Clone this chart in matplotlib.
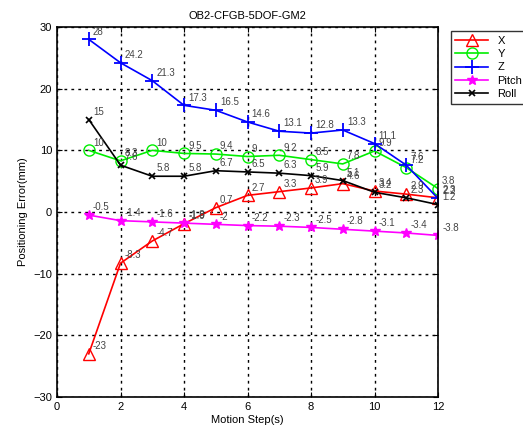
import matplotlib
matplotlib.use("Agg")
import matplotlib.pyplot as plt

plt.rcParams["font.family"] = ["Liberation Sans", "DejaVu Sans"]

steps = [1, 2, 3, 4, 5, 6, 7, 8, 9, 10, 11, 12]
err_x = [-23, -8.3, -4.7, -1.9, 0.7, 2.7, 3.3, 3.9, 4.6, 3.4, 2.9, 2.3]
err_y = [10, 8.3, 10, 9.5, 9.4, 9, 9.2, 8.5, 7.8, 9.9, 7.2, 3.8]
err_z = [28, 24.2, 21.3, 17.3, 16.5, 14.6, 13.1, 12.8, 13.3, 11.1, 7.6, 2.2]
err_pitch = [-0.5, -1.4, -1.6, -1.8, -2, -2.2, -2.3, -2.5, -2.8, -3.1, -3.4, -3.8]
err_roll = [15, 7.6, 5.8, 5.8, 6.7, 6.5, 6.3, 5.9, 5.1, 3.2, 2.3, 1.2]

series = [
    ("X", err_x, "red", "^", dict(markerfacecolor="none", markersize=8)),
    ("Y", err_y, "#00ee00", "o", dict(markerfacecolor="none", markersize=8)),
    ("Z", err_z, "blue", "+", dict(markersize=10, markeredgewidth=1.3)),
    ("Pitch", err_pitch, "magenta", "*", dict(markersize=7)),
    ("Roll", err_roll, "black", "x", dict(markersize=5, markeredgewidth=1.2)),
]

fig = plt.figure(figsize=(5.23, 4.29), dpi=100)
ax = fig.add_axes([0.109, 0.0746, 0.7285, 0.8624])

for name, vals, color, marker, kw in series:
    ax.plot(steps, vals, color=color, marker=marker, linewidth=1.2,
            markeredgecolor=color, label=name, **kw)
    for sx, v in zip(steps, vals):
        ax.annotate(f"{v:g}", (sx, v), xytext=(3, 2), textcoords="offset points",
                    fontsize=7, color="#444444", ha="left", va="bottom")

ax.set_xlim(0, 12)
ax.set_ylim(-30, 30)
ax.set_xticks(range(0, 13, 2))
ax.set_yticks(range(-30, 31, 10))
ax.grid(True, color="black", linestyle=(0, (2, 3)), linewidth=1)
ax.tick_params(direction="in", top=True, right=True, labelsize=8)
for sp in ax.spines.values():
    sp.set_linewidth(1.2)

ax.set_title("OB2-CFGB-5DOF-GM2", fontsize=8)
ax.set_xlabel("Motion Step(s)", fontsize=8, labelpad=2)
ax.set_ylabel("Positioning Error(mm)", fontsize=8)

fig.legend(loc="upper left", bbox_to_anchor=(0.851, 0.94), fontsize=8,
           frameon=True, fancybox=False, edgecolor="black", borderpad=0.4,
           handlelength=3, labelspacing=0.3)

fig.savefig("out.png", dpi=100)
